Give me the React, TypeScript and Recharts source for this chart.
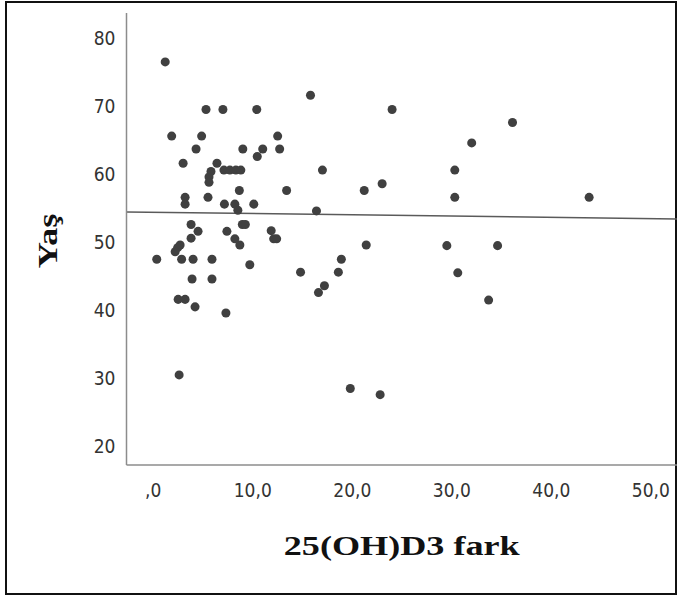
import React from "react";
import {
  ScatterChart,
  Scatter,
  XAxis,
  YAxis,
  ZAxis,
  ReferenceLine,
} from "recharts";

// 25(OH)D3 fark (x) against Yaş (y)
const farkValues = [
  1.2, 5.3, 7.0, 10.4, 15.8, 24.0, 36.1, 1.85, 4.86, 12.5, 32.0, 4.3, 9.0,
  11.0, 12.7, 10.45, 3.0, 6.4, 7.1, 7.7, 8.3, 8.8, 5.8, 5.6, 5.6, 17.0, 30.3,
  23.0, 8.65, 13.4, 21.2, 3.2, 5.5, 30.3, 43.8, 3.2, 7.15, 8.2, 10.1, 8.5,
  16.4, 3.8, 8.95, 9.25, 4.5, 7.4, 11.85, 3.8, 8.2, 12.1, 12.4, 2.7, 2.45,
  2.2, 8.7, 21.4, 29.5, 34.6, 0.35, 2.85, 4.0, 5.9, 18.9, 9.7, 14.8, 18.6,
  30.6, 3.9, 5.9, 17.2, 16.6, 2.5, 3.2, 33.7, 4.2, 7.3, 2.6, 19.8, 22.8,
];
const yasValues = [
  76.5, 69.5, 69.5, 69.5, 71.6, 69.5, 67.6, 65.6, 65.6, 65.6, 64.6, 63.7,
  63.7, 63.7, 63.7, 62.6, 61.6, 61.6, 60.6, 60.6, 60.6, 60.6, 60.4, 59.6,
  58.8, 60.6, 60.6, 58.6, 57.6, 57.6, 57.6, 56.6, 56.6, 56.6, 56.6, 55.6,
  55.6, 55.6, 55.6, 54.7, 54.6, 52.6, 52.6, 52.6, 51.6, 51.6, 51.7, 50.6,
  50.5, 50.5, 50.5, 49.6, 49.2, 48.6, 49.6, 49.6, 49.5, 49.5, 47.5, 47.5,
  47.5, 47.5, 47.5, 46.7, 45.6, 45.6, 45.5, 44.6, 44.6, 43.6, 42.6, 41.6,
  41.6, 41.5, 40.5, 39.6, 30.5, 28.5, 27.6,
];

const xTicks = [0, 10, 20, 30, 40, 50];
const yTicks = [20, 30, 40, 50, 60, 70, 80];
const xDomain = [-2.69, 52.63];
const yDomain = [17.26, 83.69];

// fit line
const fitIntercept = 54.41;
const fitSlope = -0.019;

const points = farkValues.map((x, i) => ({ x, y: yasValues[i] }));

const fmtX = (v: number) => (v === 0 ? ",0" : `${v},0`);

const tickFont = {
  fill: "#333",
  fontSize: 19,
  fontFamily: "'DejaVu Sans Condensed', 'DejaVu Sans', sans-serif",
  fontStretch: "condensed",
};

const titleFont = "'Liberation Serif', 'Times New Roman', serif";

export default function App() {
  return (
    <div
      style={{
        position: "absolute",
        left: 0,
        top: 0,
        width: 677,
        height: 597,
        background: "#fff",
        overflow: "hidden",
      }}
    >
      <div
        style={{
          position: "absolute",
          left: 5,
          top: 1,
          width: 668,
          height: 590,
          border: "2px solid #111",
        }}
      />
      <ScatterChart
        width={677}
        height={597}
        margin={{ top: 13, right: 0, bottom: 92, left: 0 }}
        style={{ position: "absolute", left: 0, top: 0 }}
      >
        <XAxis
          type="number"
          dataKey="x"
          domain={xDomain}
          ticks={xTicks}
          tickFormatter={fmtX}
          allowDataOverflow
          height={40}
          tickLine={false}
          tickMargin={13}
          axisLine={{ stroke: "#8c8c8c", strokeWidth: 1.5 }}
          tick={tickFont}
          label={{
            content: ({ viewBox }: any) => (
              <text
                x={viewBox.x + viewBox.width / 2}
                y={555}
                textAnchor="middle"
                fontFamily={titleFont}
                fontWeight="bold"
                fontSize={28}
                fill="#111"
                textLength={236}
                lengthAdjust="spacingAndGlyphs"
              >
                25(OH)D3 fark
              </text>
            ),
          }}
        />
        <YAxis
          type="number"
          dataKey="y"
          domain={yDomain}
          ticks={yTicks}
          allowDataOverflow
          width={126.5}
          tickLine={false}
          tickMargin={5}
          axisLine={{ stroke: "#8c8c8c", strokeWidth: 1.5 }}
          tick={tickFont}
          label={{
            content: () => (
              <text
                transform="translate(57,241) rotate(-90)"
                textAnchor="middle"
                fontFamily={titleFont}
                fontWeight="bold"
                fontSize={27}
                fill="#111"
                textLength={55}
                lengthAdjust="spacingAndGlyphs"
              >
                Yaş
              </text>
            ),
          }}
        />
        <ZAxis range={[64, 64]} />
        <ReferenceLine
          segment={[
            { x: xDomain[0], y: fitIntercept + fitSlope * xDomain[0] },
            { x: xDomain[1], y: fitIntercept + fitSlope * xDomain[1] },
          ]}
          stroke="#5a5a5a"
          strokeWidth={1.5}
        />
        <Scatter
          data={points}
          fill="#404040"
          isAnimationActive={false}
        />
      </ScatterChart>
    </div>
  );
}
